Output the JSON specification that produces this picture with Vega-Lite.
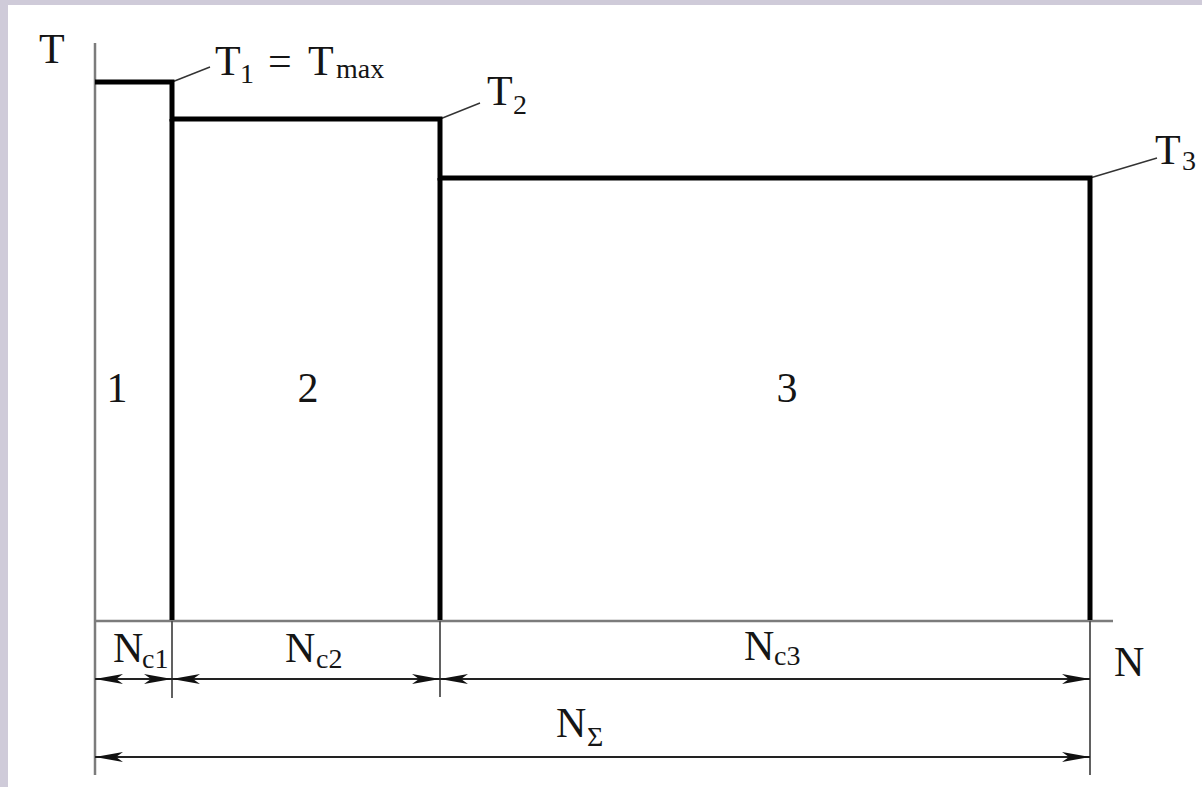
{
  "$schema": "https://vega.github.io/schema/vega-lite/v6.json",
  "width": 1202,
  "height": 787,
  "padding": 0,
  "autosize": {"type": "fit", "contains": "padding"},
  "background": "#cfcbd9",
  "config": {"view": {"stroke": null}},
  "data": {
    "values": [
      {"kind": "bg", "x": -87, "x2": 1107, "y": 615, "y2": -167},
      {"kind": "path", "i": 1, "x": 0, "y": 538},
      {"kind": "path", "i": 2, "x": 77, "y": 538},
      {"kind": "path", "i": 3, "x": 77, "y": 501},
      {"kind": "path", "i": 4, "x": 345, "y": 501},
      {"kind": "path", "i": 5, "x": 345, "y": 442},
      {"kind": "path", "i": 6, "x": 995, "y": 442},
      {"kind": "path", "i": 7, "x": 995, "y": 0},
      {"kind": "step", "x": 77, "x2": 77, "y": 501, "y2": 0},
      {"kind": "step", "x": 345, "x2": 345, "y": 442, "y2": 0},
      {"kind": "axis", "x": 0, "x2": 0, "y": 577, "y2": -155},
      {"kind": "axis", "x": 0, "x2": 1018, "y": -1, "y2": -1},
      {"kind": "ext", "x": 77, "x2": 77, "y": -1, "y2": -78},
      {"kind": "ext", "x": 345, "x2": 345, "y": -1, "y2": -77},
      {"kind": "ext", "x": 995, "x2": 995, "y": -1, "y2": -155},
      {"kind": "dim", "x": 0, "x2": 995, "y": -59, "y2": -59},
      {"kind": "dim", "x": 0, "x2": 995, "y": -137, "y2": -137},
      {"kind": "lead", "x": 77, "x2": 115, "y": 538, "y2": 553},
      {"kind": "lead", "x": 345, "x2": 385, "y": 501, "y2": 517},
      {"kind": "lead", "x": 995, "x2": 1062, "y": 442, "y2": 462},
      {"kind": "arrow", "dir": "L", "x": 0, "y": -59},
      {"kind": "arrow", "dir": "R", "x": 77, "y": -59},
      {"kind": "arrow", "dir": "L", "x": 77, "y": -59},
      {"kind": "arrow", "dir": "R", "x": 345, "y": -59},
      {"kind": "arrow", "dir": "L", "x": 345, "y": -59},
      {"kind": "arrow", "dir": "R", "x": 995, "y": -59},
      {"kind": "arrow", "dir": "L", "x": 0, "y": -137},
      {"kind": "arrow", "dir": "R", "x": 995, "y": -137},
      {"kind": "txt", "label": "T", "x": -56, "y": 557},
      {"kind": "txt", "label": "T", "x": 120, "y": 545},
      {"kind": "txt", "label": "=", "x": 173, "y": 545},
      {"kind": "txt", "label": "T", "x": 213, "y": 545},
      {"kind": "txt", "label": "T", "x": 392, "y": 515},
      {"kind": "txt", "label": "T", "x": 1060, "y": 456},
      {"kind": "txt", "label": "N", "x": 18, "y": -42},
      {"kind": "txt", "label": "N", "x": 190, "y": -42},
      {"kind": "txt", "label": "N", "x": 649, "y": -40},
      {"kind": "txt", "label": "N", "x": 1019, "y": -56},
      {"kind": "txt", "label": "N", "x": 461, "y": -117},
      {"kind": "num", "label": "1", "x": 22, "y": 218},
      {"kind": "num", "label": "2", "x": 213, "y": 218},
      {"kind": "num", "label": "3", "x": 692, "y": 218},
      {"kind": "sub", "label": "1", "x": 145, "y": 537},
      {"kind": "sub", "label": "max", "x": 241, "y": 542},
      {"kind": "sub", "label": "2", "x": 418, "y": 506},
      {"kind": "sub", "label": "3", "x": 1087, "y": 450},
      {"kind": "sub", "label": "c1", "x": 47, "y": -48},
      {"kind": "sub", "label": "c2", "x": 221, "y": -48},
      {"kind": "sub", "label": "c3", "x": 679, "y": -45},
      {"kind": "sub", "label": "Σ", "x": 492, "y": -126}
    ]
  },
  "encoding": {
    "x": {"field": "x", "type": "quantitative", "scale": {"domain": [-95, 1107], "nice": false, "zero": false}, "axis": null},
    "y": {"field": "y", "type": "quantitative", "scale": {"domain": [-167, 620], "nice": false, "zero": false}, "axis": null}
  },
  "layer": [
    {
      "transform": [{"filter": "datum.kind === 'bg'"}],
      "mark": {"type": "rect", "color": "#ffffff"},
      "encoding": {"x2": {"field": "x2"}, "y2": {"field": "y2"}}
    },
    {
      "transform": [{"filter": "datum.kind === 'axis'"}],
      "mark": {"type": "rule", "color": "#7c7c7c", "strokeWidth": 2.5},
      "encoding": {"x2": {"field": "x2"}, "y2": {"field": "y2"}}
    },
    {
      "transform": [{"filter": "datum.kind === 'ext'"}],
      "mark": {"type": "rule", "color": "#505050", "strokeWidth": 1.8},
      "encoding": {"x2": {"field": "x2"}, "y2": {"field": "y2"}}
    },
    {
      "transform": [{"filter": "datum.kind === 'dim'"}],
      "mark": {"type": "rule", "color": "#222222", "strokeWidth": 2},
      "encoding": {"x2": {"field": "x2"}, "y2": {"field": "y2"}}
    },
    {
      "transform": [{"filter": "datum.kind === 'lead'"}],
      "mark": {"type": "rule", "color": "#333333", "strokeWidth": 1.4},
      "encoding": {"x2": {"field": "x2"}, "y2": {"field": "y2"}}
    },
    {
      "transform": [{"filter": "datum.kind === 'step'"}],
      "mark": {"type": "rule", "color": "#000000", "strokeWidth": 5},
      "encoding": {"x2": {"field": "x2"}, "y2": {"field": "y2"}}
    },
    {
      "transform": [{"filter": "datum.kind === 'path'"}],
      "mark": {"type": "line", "color": "#000000", "strokeWidth": 5, "strokeJoin": "miter", "strokeCap": "butt"},
      "encoding": {"order": {"field": "i", "type": "quantitative"}}
    },
    {
      "transform": [{"filter": "datum.kind === 'arrow'"}],
      "mark": {"type": "point", "filled": true, "color": "#111111", "opacity": 1, "size": 784},
      "encoding": {
        "shape": {
          "field": "dir",
          "type": "nominal",
          "scale": {"domain": ["L", "R"], "range": ["M0,0L2,-0.36L1.5,0L2,0.36Z", "M0,0L-2,-0.36L-1.5,0L-2,0.36Z"]},
          "legend": null
        }
      }
    },
    {
      "transform": [{"filter": "datum.kind === 'txt'"}],
      "mark": {"type": "text", "font": "Liberation Serif", "fontSize": 42, "align": "left", "baseline": "alphabetic", "color": "#151515"},
      "encoding": {"text": {"field": "label"}}
    },
    {
      "transform": [{"filter": "datum.kind === 'num'"}],
      "mark": {"type": "text", "font": "Liberation Serif", "fontSize": 42, "align": "center", "baseline": "alphabetic", "color": "#151515"},
      "encoding": {"text": {"field": "label"}}
    },
    {
      "transform": [{"filter": "datum.kind === 'sub'"}],
      "mark": {"type": "text", "font": "Liberation Serif", "fontSize": 28, "align": "left", "baseline": "alphabetic", "color": "#151515"},
      "encoding": {"text": {"field": "label"}}
    }
  ]
}
